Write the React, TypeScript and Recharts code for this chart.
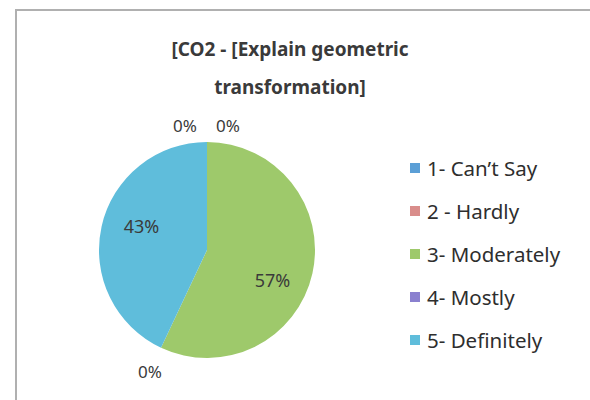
import { PieChart, Pie, Cell, Legend } from "recharts";

const categories = ["1- Can\u2019t Say", "2 - Hardly", "3- Moderately", "4- Mostly", "5- Definitely"];
const shares = [0, 0, 57, 0, 43];
const colors = ["#5b9fd6", "#d98d8b", "#9ec96b", "#8a80cf", "#5fbddb"];

const data = categories.map((name, i) => ({ name, value: shares[i] }));

const RAD = Math.PI / 180;

function renderLabel(props: any) {
  const { cx, cy, midAngle, outerRadius, value, index } = props;
  const r = value === 0 ? outerRadius + 26 : outerRadius * 0.66;
  let x = cx + r * Math.cos(-midAngle * RAD);
  let y = cy + r * Math.sin(-midAngle * RAD);
  // zero slices sitting on the same angle get pushed apart like Excel does
  if (value === 0 && index === 0) x -= 22;
  if (value === 0 && index === 1) x += 21;
  if (value === 0 && index < 2) y += 9;
  if (index === 2) {
    x -= 4;
    y += 14;
  }
  if (index === 4) {
    x += 4;
    y -= 8;
  }
  return (
    <text
      x={x}
      y={y}
      textAnchor="middle"
      dominantBaseline="central"
      fill="#3a3a3a"
      fontSize={value === 0 ? 17 : 18}
      fontFamily="'Noto Sans', sans-serif"
    >
      {`${value}%`}
    </text>
  );
}

function LegendList(props: any) {
  const { payload } = props;
  return (
    <div style={{ fontFamily: "'Noto Sans', sans-serif", fontSize: 20.5, color: "#2e2e2e" }}>
      {payload.map((p: any) => (
        <div key={p.value} style={{ display: "flex", alignItems: "center", height: 43 }}>
          <span style={{ width: 10, height: 10, background: p.color, marginRight: 7 }} />
          <span>{p.value}</span>
        </div>
      ))}
    </div>
  );
}

export default function App() {
  return (
    <div style={{ position: "absolute", left: 0, top: 0, width: 590, height: 400, background: "#fff" }}>
      <div
        style={{
          position: "absolute",
          left: 15,
          top: 9,
          width: 574,
          height: 389,
          borderTop: "2px solid #b0b0b0",
          borderLeft: "2px solid #b0b0b0",
          borderRight: "1px solid #e4e4e4",
          borderBottom: "1px solid #e4e4e4",
        }}
      />
      <div
        style={{
          position: "absolute",
          left: 130,
          top: 30,
          width: 320,
          textAlign: "center",
          fontFamily: "'Noto Sans', sans-serif",
          fontWeight: 700,
          fontSize: 19,
          lineHeight: "38px",
          color: "#3a3a3a",
        }}
      >
        [CO2 - [Explain geometric
        <br />
        transformation]
      </div>
      <div style={{ position: "absolute", left: 0, top: 0 }}>
        <PieChart width={590} height={400}>
          <Pie
            data={data}
            dataKey="value"
            nameKey="name"
            cx={202}
            cy={245}
            outerRadius={108}
            startAngle={90}
            endAngle={-270}
            stroke="none"
            label={renderLabel}
            labelLine={false}
            isAnimationActive={false}
          >
            {data.map((d, i) => (
              <Cell key={d.name} fill={colors[i]} />
            ))}
          </Pie>
          <Legend
            layout="vertical"
            content={LegendList}
            wrapperStyle={{ position: "absolute", left: 410, top: 146, width: 180 }}
          />
        </PieChart>
      </div>
    </div>
  );
}
